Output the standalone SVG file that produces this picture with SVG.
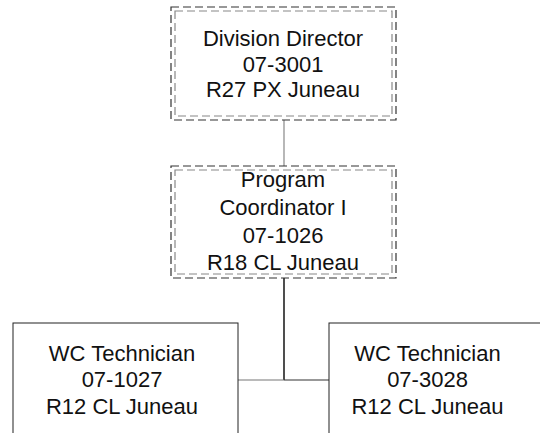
<svg xmlns="http://www.w3.org/2000/svg" width="540" height="433" viewBox="0 0 540 433">
<style>
.outer{fill:none;stroke:#333;stroke-width:1.2;stroke-dasharray:8,4}
.inner{fill:none;stroke:#888;stroke-width:1.2;stroke-dasharray:8,4}
.solid{fill:none;stroke:#222;stroke-width:1}
text{font-family:"Liberation Sans",Arial,sans-serif;font-size:22px;fill:#111;text-anchor:middle}
</style>
<rect width="540" height="433" fill="#fff"/>
<g id="connectors">
<line x1="284" y1="120" x2="284" y2="166" stroke="#888" stroke-width="1.2"/>
<line x1="284" y1="278" x2="284" y2="380" stroke="#222" stroke-width="1.6"/>
<line x1="238" y1="380" x2="284" y2="380" stroke="#777" stroke-width="1.2"/>
<line x1="284" y1="380" x2="329" y2="380" stroke="#333" stroke-width="1.2"/>
</g>
<g id="division-director">
<rect class="outer" x="171" y="7" width="225" height="113"/>
<rect class="inner" x="175" y="11" width="217" height="105"/>
<text x="283" y="46">Division Director</text>
<text x="283" y="72">07-3001</text>
<text x="283" y="97">R27 PX Juneau</text>
</g>
<g id="program-coordinator">
<rect class="outer" x="171" y="166" width="225" height="112"/>
<rect class="inner" x="175" y="170" width="217" height="104"/>
<text x="283" y="187">Program</text>
<text x="283" y="215">Coordinator I</text>
<text x="283" y="242.5">07-1026</text>
<text x="283" y="270">R18 CL Juneau</text>
</g>
<g id="wc-technician-1027">
<rect class="solid" x="13" y="323" width="225" height="130"/>
<text x="122" y="361">WC Technician</text>
<text x="122" y="387">07-1027</text>
<text x="122" y="414">R12 CL Juneau</text>
</g>
<g id="wc-technician-3028">
<rect class="solid" x="329" y="323" width="240" height="130"/>
<text x="427.5" y="361">WC Technician</text>
<text x="427.5" y="387">07-3028</text>
<text x="427.5" y="414">R12 CL Juneau</text>
</g>
</svg>
